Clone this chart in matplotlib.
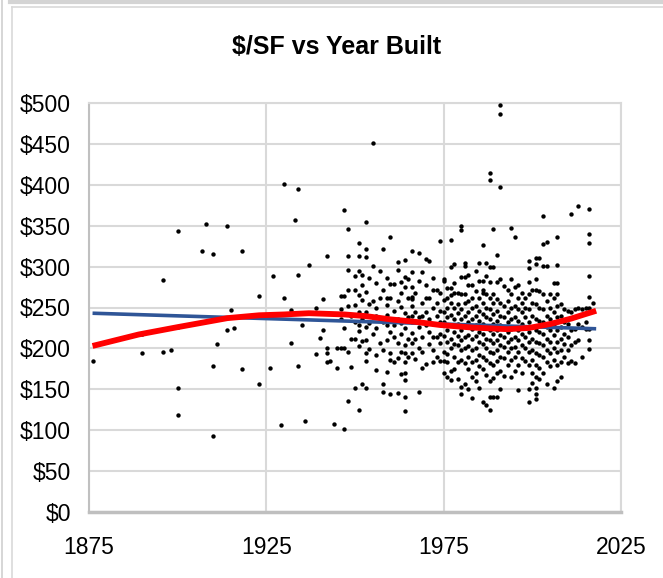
import matplotlib
matplotlib.use("Agg")
import matplotlib.pyplot as plt
from matplotlib.lines import Line2D
from matplotlib.ticker import FuncFormatter

plt.rcParams['font.family'] = ['Liberation Sans', 'DejaVu Sans']

# year built -> $/SF values (one column per year)
built_years = [
    1876, 1890, 1896, 1898, 1900, 1907, 1908, 1910, 1911, 1914, 1915, 1916, 1918,
    1923, 1926, 1927, 1929, 1930, 1932, 1933, 1934, 1935, 1936, 1937, 1939, 1940,
    1941, 1942, 1943, 1944, 1945, 1946, 1947, 1948, 1949, 1950, 1951, 1952, 1953,
    1954, 1955, 1956, 1957, 1958, 1959, 1960, 1961, 1962, 1963, 1964, 1965, 1966,
    1967, 1968, 1969, 1970, 1971, 1972, 1973, 1974, 1975, 1976, 1977, 1978, 1979,
    1980, 1981, 1982, 1983, 1984, 1985, 1986, 1987, 1988, 1989, 1990, 1991, 1992,
    1993, 1994, 1995, 1996, 1997, 1998, 1999, 2000, 2001, 2002, 2003, 2004, 2005,
    2006, 2007, 2008, 2009, 2010, 2011, 2012, 2013, 2014, 2015, 2016, 2017,
]
price_cols = [
    [184], [218, 194], [284, 196], [198], [344, 226, 152, 118], [319], [352],
    [316, 178, 93], [205], [350, 223], [247], [225], [319, 175],
    [264, 157], [176], [288], [106], [401, 262], [247, 206], [357], [395, 290, 179],
    [228], [111], [302], [250, 193], [213],
    [261, 223], [313, 200, 194, 183], [185], [107], [200, 176], [264, 248, 201, 236],
    [369, 264, 201, 102, 225], [346, 313, 296, 271, 195, 136, 252], [177, 240, 212],
    [288, 253, 211, 151, 232, 272], [329, 313, 295, 265, 228, 221, 125, 245, 203],
    [278, 259, 209, 156, 236, 290], [355, 322, 312, 269, 226, 210, 194, 151, 245, 184],
    [254, 231, 286, 199], [451, 301, 258, 218, 238], [250, 225, 192, 174, 240, 280],
    [295, 236, 206, 262],
    [322, 272, 156, 147, 232, 198], [262, 253, 210, 171, 241, 286, 228],
    [336, 279, 220, 194, 186, 144, 262, 236], [279, 246, 183, 228, 214],
    [306, 296, 206, 146, 258, 236, 188], [281, 251, 218, 169, 268, 231, 196],
    [308, 275, 225, 204, 194, 183, 170, 161, 141, 124, 243, 287],
    [285, 238, 212, 262, 190],
    [319, 293, 275, 263, 260, 252, 219, 206, 194, 232, 240],
    [187, 244, 268, 212], [317, 147, 238, 226, 282, 200], [293, 214, 195, 256, 240, 176],
    [309, 277, 245, 181, 228, 262], [307, 262, 236, 205, 220], [286, 271, 250, 214, 183, 230, 198],
    [214, 256, 240, 190, 272], [331, 246, 218, 207, 268, 232, 185],
    [285, 283, 259, 245, 232, 215, 196, 184, 170],
    [274, 262, 250, 238, 222, 208, 193, 183, 165],
    [333, 299, 274, 265, 255, 241, 228, 212, 200, 172, 161],
    [303, 280, 268, 250, 236, 220, 205, 190, 175],
    [268, 254, 243, 230, 215, 204, 183, 162],
    [350, 345, 287, 266, 248, 236, 222, 210, 198, 186, 153, 144],
    [305, 301, 287, 266, 255, 240, 228, 214, 200, 182, 157],
    [290, 278, 258, 244, 232, 216, 203, 190, 175, 150],
    [278, 262, 250, 236, 224, 212, 198, 183, 165, 139],
    [295, 270, 252, 240, 228, 215, 200, 186, 170, 160],
    [304, 283, 262, 246, 233, 220, 208, 192, 178, 152],
    [327, 283, 272, 268, 255, 242, 230, 218, 205, 190, 175, 135],
    [304, 289, 266, 250, 238, 225, 212, 200, 186, 168, 131],
    [414, 406, 299, 281, 262, 248, 236, 222, 210, 196, 182, 160, 140, 125],
    [346, 299, 266, 255, 242, 230, 218, 206, 194, 180, 164, 141],
    [314, 281, 260, 246, 234, 222, 210, 198, 185, 170, 141],
    [497, 487, 397, 285, 255, 240, 228, 216, 204, 190, 172, 150],
    [276, 252, 238, 226, 214, 202, 188, 166],
    [272, 258, 244, 232, 220, 208, 196, 180],
    [347, 285, 266, 250, 236, 224, 212, 200, 186, 165],
    [336, 275, 252, 238, 226, 214, 202, 190, 172],
    [278, 262, 248, 234, 222, 210, 195, 180, 149],
    [268, 256, 244, 230, 218, 204, 188, 170],
    [262, 250, 238, 226, 214, 200, 185],
    [307, 298, 281, 266, 248, 232, 220, 208, 195, 180, 150, 134],
    [272, 255, 240, 226, 212, 198, 186, 170, 158],
    [311, 303, 285, 272, 254, 236, 222, 208, 194, 180, 165, 152, 144, 138],
    [311, 270, 250, 234, 220, 206, 192, 176, 163],
    [362, 328, 301, 266, 248, 232, 218, 204, 190, 170],
    [330, 301, 258, 240, 226, 212, 198, 183, 156],
    [266, 250, 236, 222, 208, 194, 178],
    [280, 262, 244, 230, 216, 200, 186, 152],
    [336, 302, 280, 266, 252, 238, 222, 208, 195, 180, 160],
    [254, 240, 226, 212, 198, 183, 165],
    [248, 232, 218, 205, 190],
    [246, 230, 214, 198, 182],
    [364, 244, 222, 204, 185],
    [248, 224, 208, 182],
    [374, 250, 230, 210],
    [248, 226, 190],
    [250, 232, 224],
    [371, 340, 329, 289, 263, 250, 224, 210, 199],
    [256],
]

# linear trendline (blue) and polynomial trendline (red)
lin_years = [1876, 2018]
lin_vals = [243, 224]
poly_years = [1876, 1889, 1900, 1914, 1923, 1930, 1937, 1947, 1953, 1960,
              1967, 1974, 1983, 1993, 1999, 2005, 2011, 2015, 2018]
poly_vals = [203, 217, 226, 237, 240.5, 241.5, 243, 241.5, 239.5, 235.5,
             232.5, 228.6, 225.5, 223.5, 225, 229.8, 236.5, 242, 246]

xs, ys = [], []
for yr, col in zip(built_years, price_cols):
    for v in col:
        xs.append(yr)
        ys.append(v)

W, H = 663, 578
fig = plt.figure(figsize=(W / 100, H / 100), dpi=100)

# light grey frame around the chart area
fig.add_artist(Line2D([2 / W, 2 / W], [0, 1], color='#d0d0d0', lw=1.2))
fig.add_artist(Line2D([12 / W, 12 / W], [0, 1 - 7 / H], color='#d9d9d9', lw=1.2))
fig.add_artist(Line2D([12 / W, 1], [1 - 7 / H, 1 - 7 / H], color='#d9d9d9', lw=1.2))
fig.add_artist(Line2D([10 / W, 1], [1 - 1.5 / H, 1 - 1.5 / H], color='#d4d4d4', lw=3))

ax = fig.add_axes([89 / W, (H - 512) / H, 532 / W, 409 / H])
ax.scatter(xs, ys, s=10, c='black', marker='o', linewidths=0, zorder=3)
ax.plot(lin_years, lin_vals, color='#2f5597', lw=2.6, zorder=4, solid_capstyle='butt')
ax.plot(poly_years, poly_vals, color='#ff0000', lw=4.2, zorder=5, solid_capstyle='butt')

ax.set_xlim(1875, 2025)
ax.set_ylim(0, 500)
ax.set_xticks([1875, 1925, 1975, 2025])
ax.set_yticks(range(0, 501, 50))
ax.yaxis.set_major_formatter(FuncFormatter(lambda v, p: '$%d' % v))
ax.grid(True, color='#d9d9d9', lw=1.5, zorder=0)
ax.set_axisbelow(True)
for s in ['top', 'right']:
    ax.spines[s].set_color('#d9d9d9')
    ax.spines[s].set_linewidth(1.5)
ax.spines['left'].set_color('#c0c0c0')
ax.spines['left'].set_linewidth(1.5)
ax.spines['bottom'].set_color('#bfbfbf')
ax.spines['bottom'].set_linewidth(2.5)
ax.tick_params(axis='both', length=0, labelsize=16.5, colors='#000000')
ax.tick_params(axis='y', pad=13)
ax.tick_params(axis='x', pad=17)

fig.text(337 / W, 1 - 47 / H, '$/SF vs Year Built', ha='center', va='center',
         fontsize=18, fontweight='bold')

fig.savefig('out.png', dpi=100)
